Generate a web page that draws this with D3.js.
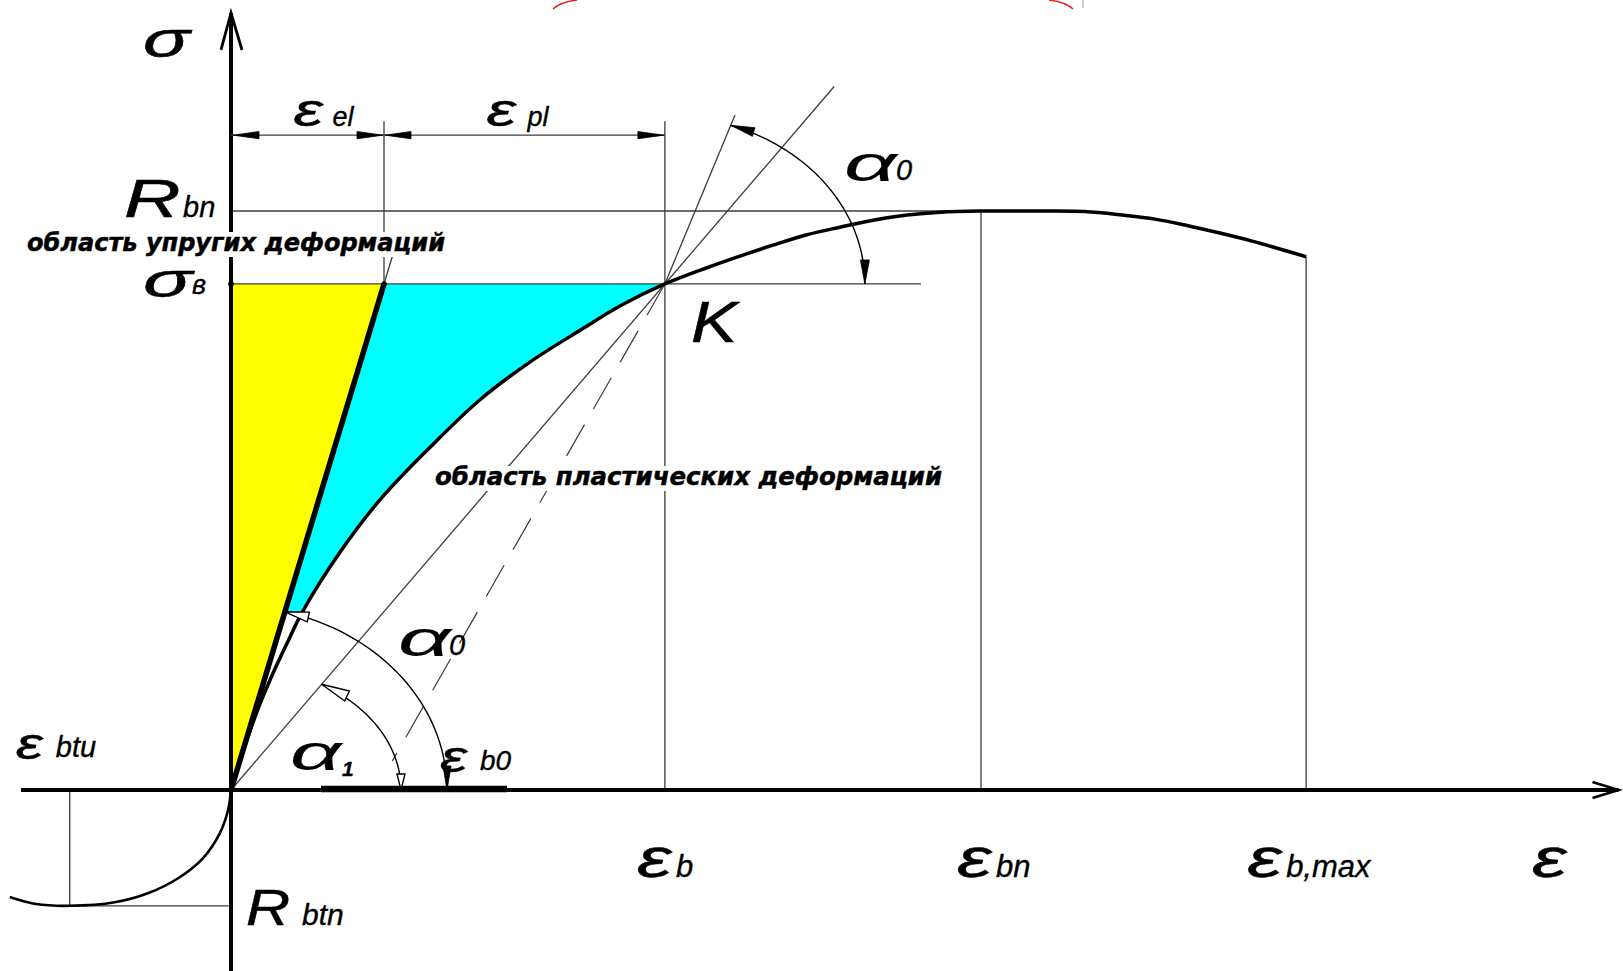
<!DOCTYPE html>
<html>
<head>
<meta charset="utf-8">
<script src="https://cdn.jsdelivr.net/npm/d3@7"></script>
<style>
  html, body { margin: 0; padding: 0; background: #fff; }
  svg { display: block; }
</style>
</head>
<body>
<svg id="chart" width="1623" height="971"></svg>
<script>
// Stress–strain diagram of concrete (σ–ε), strain in ‰, stress relative to R_bn

// compression branch of the σ–ε curve: [ε, σ]
const compressionCurve = [
  [0, 0], [0.037, 0.076], [0.075, 0.145], [0.115, 0.206], [0.152, 0.257],
  [0.189, 0.306], [0.291, 0.411], [0.397, 0.501], [0.531, 0.592], [0.664, 0.674],
  [0.797, 0.739], [0.931, 0.794], [1.043, 0.838], [1.157, 0.874], [1.269, 0.902],
  [1.357, 0.922], [1.445, 0.941], [1.536, 0.959], [1.624, 0.972], [1.712, 0.984],
  [1.803, 0.993], [1.891, 0.998], [2.0, 1.0], [2.091, 1.0], [2.176, 1.0],
  [2.277, 0.999], [2.376, 0.993], [2.464, 0.986], [2.549, 0.975], [2.637, 0.962],
  [2.723, 0.948], [2.867, 0.921]
];

// tension branch: [ε, σ]
const tensionCurve = [
  [0, 0], [-0.008, -0.035], [-0.03, -0.075], [-0.075, -0.118], [-0.14, -0.152],
  [-0.22, -0.178], [-0.31, -0.194], [-0.43, -0.2], [-0.52, -0.197], [-0.59, -0.185]
];

// characteristic strains on the ε axis
const strainMarks = [
  { key: "eb",    sym: "ε", sub: "b",     value: 1.157 },
  { key: "ebn",   sym: "ε", sub: "bn",    value: 2.0 },
  { key: "ebmax", sym: "ε", sub: "b,max", value: 2.867 }
];

// characteristic stresses on the σ axis
const stressMarks = [
  { key: "Rbn",  sym: "R", sub: "bn",  value: 1.0 },
  { key: "sv",   sym: "σ", sub: "в",   value: 0.874 },
  { key: "Rbtn", sym: "R", sub: "btn", value: -0.2 }
];

const strainEl = 0.408;             // elastic part of ε_b
const strainB0 = 0.573;             // ε_b0
const strainBtu = -0.43;            // ε_btu
const strainBand = [0.24, 0.736];   // bold band on the ε axis
const elasticLimitStress = 0.306;   // lower end of the plastic (cyan) zone
const secantTopStress = 1.215;      // secant through K continues up to here
const chordUp = [1.344, 1.166];     // line at α0 through K, upper end
const chordDown = [0.43, 0.05];     // its dashed continuation below K
const dimStress = 1.131;            // level of the ε_el / ε_pl dimension line
const extStress = 1.155;            // top of the extension lines
const horizEnd = 1.84;              // end of the σ_в level line
const axisEps = [-0.56, 3.70];
const axisSig = [-0.33, 1.342];

const x = d3.scaleLinear().domain([0, 2]).range([231, 981]);
const y = d3.scaleLinear().domain([0, 1]).range([790, 211]);

const svg = d3.select("#chart");
svg.append("rect").attr("width", 1623).attr("height", 971).attr("fill", "#fff");

const val = k => (strainMarks.find(d => d.key === k) || stressMarks.find(d => d.key === k)).value;
const epsB = val("eb"), epsBn = val("ebn"), epsBmax = val("ebmax");
const sigRbn = val("Rbn"), sigV = val("sv"), sigRbtn = val("Rbtn");
const K = [epsB, sigV];
const P = p => [x(p[0]), y(p[1])];

const smooth = d3.line().x(d => x(d[0])).y(d => y(d[1])).curve(d3.curveCatmullRom.alpha(0.5));
const straight = d3.line().x(d => x(d[0])).y(d => y(d[1]));

const FILL = "#ffff00", CYAN = "#00ffff", INK = "#000", THIN = "#3c3c3c";

// ---- filled zones
const gFill = svg.append("g");
gFill.append("path")
  .attr("d", straight([[0, sigV], [strainEl, sigV], [0, 0]]) + "Z")
  .attr("fill", FILL);

const plasticPart = compressionCurve.filter(d => d[0] <= epsB + 1e-9 && d[1] >= elasticLimitStress - 1e-9);
const elBottomEps = strainEl * elasticLimitStress / sigV;
gFill.append("path")
  .attr("d", smooth(plasticPart) +
    `L${x(strainEl)},${y(sigV)}L${x(elBottomEps)},${y(elasticLimitStress)}Z`)
  .attr("fill", CYAN);

// ---- thin construction lines
const gThin = svg.append("g").attr("stroke", THIN).attr("stroke-width", 1.3).attr("fill", "none");
const seg = (a, b) => gThin.append("path").attr("d", straight([a, b]));
seg([0, sigRbn], [epsBn, sigRbn]);                 // R_bn level
seg([0, sigV], [horizEnd, sigV]);                  // σ_в level
seg([epsB, extStress], [epsB, 0]);                 // ε_b
seg([strainEl, extStress], [strainEl, sigV]);      // ε_el extension
seg([epsBn, sigRbn], [epsBn, 0]);                  // ε_bn
const endPt = compressionCurve[compressionCurve.length - 1];
seg([epsBmax, endPt[1]], [epsBmax, 0]);            // ε_b,max
seg([strainBtu, 0], [strainBtu, sigRbtn]);         // ε_btu
seg([strainBtu, sigRbtn], [0, sigRbtn]);           // R_btn level
const secantEps = epsB * secantTopStress / sigV;
seg([0, 0], [secantEps, secantTopStress]);         // secant through K
seg(K, chordUp);                                   // α0 line above K
seg([strainEl, sigV], [strainEl * 0.924 / sigV, 0.924]); // elastic line extension
gThin.append("path")
  .attr("d", straight([K, chordDown]))
  .attr("stroke-dasharray", "36 18").attr("stroke-width", 1.2);

// small marker at σ_в on the axis
svg.append("circle").attr("cx", x(0)).attr("cy", y(sigV)).attr("r", 2.5)
  .attr("fill", "#fff").attr("stroke", INK).attr("stroke-width", 1);

// ---- curves
svg.append("path").attr("d", smooth(compressionCurve))
  .attr("fill", "none").attr("stroke", INK).attr("stroke-width", 3.5).attr("stroke-linejoin", "round");
svg.append("path").attr("d", smooth(tensionCurve))
  .attr("fill", "none").attr("stroke", INK).attr("stroke-width", 2.6);
svg.append("path").attr("d", straight([[0, 0], [strainEl, sigV]]))
  .attr("fill", "none").attr("stroke", INK).attr("stroke-width", 5.5).attr("stroke-linecap", "round");

// ---- axes
const gAx = svg.append("g").attr("stroke", INK).attr("fill", "none");
gAx.append("path").attr("d", straight([[axisEps[0], 0], [axisEps[1], 0]])).attr("stroke-width", 4);
gAx.append("path").attr("d", straight([[0, axisSig[0]], [0, axisSig[1]]])).attr("stroke-width", 4);
{
  const [tx, ty] = P([axisEps[1], 0]);
  gAx.append("path").attr("d", `M${tx - 26},${ty - 8}L${tx},${ty}L${tx - 26},${ty + 8}`).attr("stroke-width", 2.8);
  const [ux, uy] = P([0, axisSig[1]]);
  gAx.append("path").attr("d", `M${ux - 10},${uy + 37}L${ux},${uy}L${ux + 11},${uy + 37}`).attr("stroke-width", 2.8);
}
svg.append("path").attr("d", straight([[strainBand[0], 0], [strainBand[1], 0]]))
  .attr("stroke", INK).attr("stroke-width", 6.5).attr("transform", "translate(0,-1)");

// ---- arrowheads
function arrowHead(g, tip, dir, len, hw, filled) {
  const L = Math.hypot(dir[0], dir[1]);
  const u = [dir[0] / L, dir[1] / L], n = [-u[1], u[0]];
  const b = [tip[0] - u[0] * len, tip[1] - u[1] * len];
  g.append("path")
    .attr("d", `M${tip[0]},${tip[1]}L${b[0] + n[0] * hw},${b[1] + n[1] * hw}L${b[0] - n[0] * hw},${b[1] - n[1] * hw}Z`)
    .attr("fill", filled ? INK : "#fff").attr("stroke", INK).attr("stroke-width", filled ? 0.8 : 1.4)
    .attr("stroke-linejoin", "miter");
}

// ---- angle arcs (centre, ray through a point, radii)
function angleArc(center, rayPt, rx, ry, topArrow, bottomArrow) {
  const [cx, cy] = P(center), [px, py] = P(rayPt);
  const t0 = Math.atan2((cy - py) * rx, (px - cx) * ry);
  const pt = t => [cx + rx * Math.cos(t), cy - ry * Math.sin(t)];
  const pts = d3.range(0, 61).map(i => pt(t0 * i / 60));
  const g = svg.append("g");
  g.append("path").attr("d", d3.line()(pts)).attr("fill", "none").attr("stroke", INK).attr("stroke-width", 1.4);
  const dTop = [-rx * Math.sin(t0), -ry * Math.cos(t0)];
  arrowHead(g, pt(t0), dTop, topArrow.len, topArrow.hw, topArrow.filled);
  arrowHead(g, pt(0), [0, 1], bottomArrow.len, bottomArrow.hw, bottomArrow.filled);
}
angleArc(K, chordUp, 200, 168, { len: 24, hw: 4.5, filled: true }, { len: 24, hw: 4.5, filled: true });
angleArc([0, 0], [strainEl, sigV], 216, 184, { len: 24, hw: 5, filled: false }, { len: 24, hw: 4, filled: true });
angleArc([0, 0], K, 170, 125, { len: 28, hw: 5.5, filled: false }, { len: 16, hw: 4, filled: false });

// ---- dimension line ε_el / ε_pl
{
  const gd = svg.append("g");
  const yy = y(dimStress);
  gd.append("path").attr("d", `M${x(0)},${yy}L${x(epsB)},${yy}`).attr("stroke", THIN).attr("stroke-width", 1.3);
  arrowHead(gd, [x(0) + 2, yy], [-1, 0], 26, 3.6, true);
  arrowHead(gd, [x(strainEl) - 1, yy], [1, 0], 26, 3.6, true);
  arrowHead(gd, [x(strainEl) + 1, yy], [-1, 0], 26, 3.6, true);
  arrowHead(gd, [x(epsB) - 1, yy], [1, 0], 26, 3.6, true);
}

// ---- labels: a widened italic symbol followed by a smaller index
const FONT = "'Liberation Sans', Arial, sans-serif";
function label(px, py, sym, o, sub) {
  const g = svg.append("g").attr("font-family", FONT).attr("font-style", "italic").attr("fill", INK);
  g.append("text")
    .attr("transform", `translate(${px},${py}) scale(${o.sx},1)`)
    .attr("font-size", o.size).attr("stroke", INK).attr("stroke-width", o.sw == null ? 0.5 : o.sw).text(sym);
  if (sub) {
    g.append("text")
      .attr("x", px + o.subDx).attr("y", py + (o.subDy || 0))
      .attr("font-size", o.subSize).attr("font-weight", o.subWeight || "normal")
      .attr("stroke", INK).attr("stroke-width", 0.35).text(sub);
  }
}

label(x(0) - 88, 57, "σ", { size: 50, sx: 1.55 });

const stressLabelPos = {
  Rbn:  { dx: -107, dy: 6,  size: 54, sx: 1.45, subSize: 29, subDx: 59 },
  sv:   { dx: -88,  dy: 13, size: 48, sx: 1.7,  subSize: 27, subDx: 49, subDy: -3 },
  Rbtn: { dx: 15,   dy: 19, size: 50, sx: 1.22, subSize: 30, subDx: 56 }
};
stressMarks.forEach(d => {
  const l = stressLabelPos[d.key];
  label(x(0) + l.dx, y(d.value) + l.dy, d.sym, l, d.sub);
});

const strainLabelPos = { eb: -28, ebn: -24, ebmax: -59 };
strainMarks.forEach(d => {
  label(x(d.value) + strainLabelPos[d.key], 877, d.sym, { size: 56, sx: 1.4, subSize: 31, subDx: 39 }, d.sub);
});
label(1532, 877, "ε", { size: 56, sx: 1.4 });

label(x(strainEl / 2) - 14, 126, "ε", { size: 46, sx: 1.45, subSize: 27, subDx: 39 }, "el");
label(x((strainEl + epsB) / 2) - 38, 126, "ε", { size: 46, sx: 1.45, subSize: 27, subDx: 41 }, "pl");
label(x(strainBtu) - 54, 759, "ε", { size: 44, sx: 1.4, subSize: 29, subDx: 40, subDy: -2 }, "btu");
label(x(strainB0) - 6, 772, "ε", { size: 44, sx: 1.4, subSize: 28, subDx: 40, subDy: -2 }, "b0");

label(P(K)[0] + 179, 181, "α", { size: 50, sx: 1.85, sw: 0.1, subSize: 29, subDx: 52, subDy: -1 }, "0");
label(398, 656, "α", { size: 50, sx: 1.85, sw: 0.1, subSize: 29, subDx: 51, subDy: -1 }, "0");
label(290, 770, "α", { size: 50, sx: 1.8, sw: 0.1, subSize: 21, subDx: 52, subDy: 6, subWeight: "bold" }, "1");
label(P(K)[0] + 26, 342, "K", { size: 58, sx: 1.2 });

// ---- zone captions (on white backing)
function caption(px, py, text, width) {
  const g = svg.append("g");
  const t = g.append("text").attr("x", px).attr("y", py)
    .attr("font-family", "'DejaVu Sans', sans-serif").attr("font-style", "italic").attr("font-weight", "bold")
    .attr("font-size", 24).attr("textLength", width).attr("lengthAdjust", "spacingAndGlyphs")
    .attr("fill", INK).attr("stroke", INK).attr("stroke-width", 0.5).text(text);
  const bb = t.node().getBBox();
  g.insert("rect", "text").attr("x", bb.x - 2).attr("y", bb.y + 3).attr("width", bb.width + 4)
    .attr("height", bb.height - 3).attr("fill", "#fff");
}
caption(27, 251, "область упругих деформаций", 418);
caption(435, 485, "область пластических деформаций", 507);

// ---- red marks at the top edge
svg.append("path").attr("d", "M553,9 Q560,2 577,0").attr("fill", "none").attr("stroke", "#e02020").attr("stroke-width", 1.4);
svg.append("path").attr("d", "M1049,0 Q1066,2 1073,9").attr("fill", "none").attr("stroke", "#e02020").attr("stroke-width", 1.4);
svg.append("path").attr("d", "M1083,0 L1083,8").attr("stroke", "#999").attr("stroke-width", 1);
</script>
</body>
</html>
